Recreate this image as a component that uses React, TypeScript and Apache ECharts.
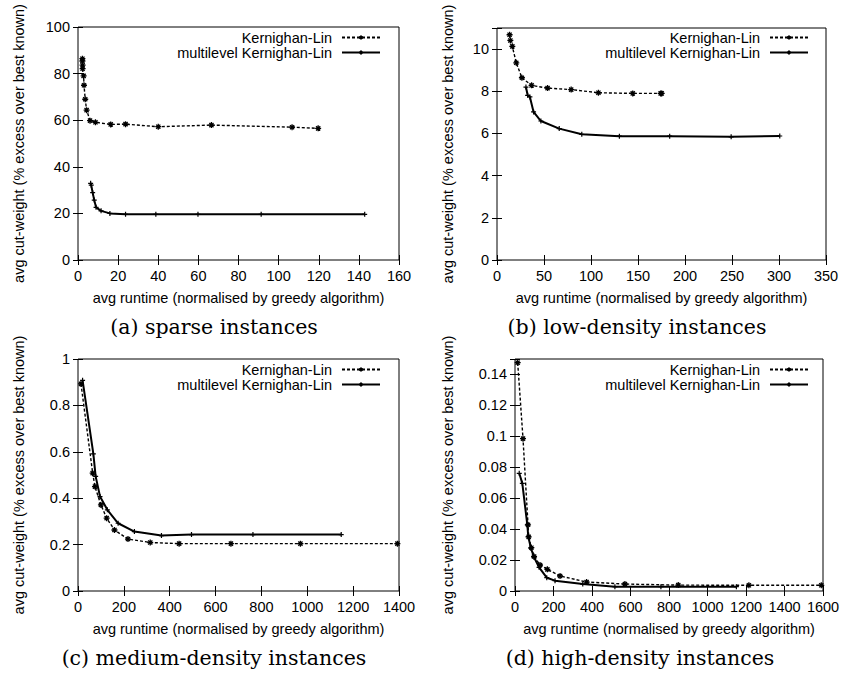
import React, { useEffect, useRef } from 'react';
import * as echarts from 'echarts';

const KL = 'Kernighan-Lin';
const ML = 'multilevel Kernighan-Lin';
const xName = 'avg runtime (normalised by greedy algorithm)';
const yName = 'avg cut-weight (% excess over best known)';
const captions = [
  '(a) sparse instances',
  '(b) low-density instances',
  '(c) medium-density instances',
  '(d) high-density instances',
];

// (a) sparse
const sparseKLx = [2.2, 2.2, 2.3, 2.3, 2.8, 3.0, 3.6, 4.3, 6.0, 8.7, 16.3, 23.7, 40.0, 66.5, 106.7, 119.7];
const sparseKLy = [86.4, 85.4, 83.6, 82.1, 79.0, 75.0, 69.0, 64.3, 59.8, 59.1, 58.2, 58.3, 57.2, 57.9, 57.0, 56.5];
const sparseMLx = [6.3, 6.6, 7.3, 8.1, 9.0, 11.5, 15.9, 23.7, 38.8, 59.8, 91.3, 142.9];
const sparseMLy = [32.9, 32.1, 28.9, 25.7, 22.6, 21.1, 20.0, 19.6, 19.6, 19.6, 19.6, 19.6];

// (b) low density
const lowKLx = [13.4, 14.2, 16.3, 20.5, 26.5, 36.8, 53.8, 78.9, 107.9, 144.4, 174.1, 175.2];
const lowKLy = [10.68, 10.41, 10.13, 9.35, 8.64, 8.28, 8.15, 8.08, 7.93, 7.9, 7.9, 7.9];
const lowMLx = [30.8, 32.6, 35.0, 38.9, 46.7, 66.2, 90.2, 130.2, 183.7, 249.1, 300.8];
const lowMLy = [8.2, 7.81, 7.73, 7.02, 6.59, 6.23, 5.96, 5.87, 5.87, 5.84, 5.88];

// (c) medium density
const medKLx = [13, 64, 74, 100, 125, 159, 218, 315, 441, 667, 970, 1393];
const medKLy = [0.893, 0.508, 0.45, 0.371, 0.314, 0.263, 0.224, 0.209, 0.204, 0.204, 0.204, 0.204];
const medMLx = [20, 67, 77, 96, 128, 175, 246, 364, 495, 763, 1148];
const medMLy = [0.908, 0.591, 0.494, 0.407, 0.35, 0.292, 0.256, 0.239, 0.243, 0.243, 0.243];

// (d) high density
const highKLx = [14, 41.6, 67.7, 71, 85, 99, 130, 168, 234, 372, 571, 848, 1215, 1591];
const highKLy = [0.1476, 0.0985, 0.0428, 0.035, 0.028, 0.0223, 0.0168, 0.014, 0.0097, 0.0058, 0.0045, 0.0038, 0.0037, 0.0037];
const highMLx = [22, 38, 64, 69, 83, 99, 125, 165, 208, 352, 519, 758, 1150];
const highMLy = [0.0761, 0.0696, 0.0427, 0.0351, 0.0276, 0.0218, 0.0153, 0.0086, 0.0067, 0.0045, 0.0028, 0.0028, 0.0028];

// axis ranges
const xMaxes = [160, 350, 1400, 1600];
const xSteps = [20, 50, 200, 200];
const yMaxes = [100, 11, 1, 0.15];
const ySteps = [20, 2, 0.2, 0.02];

const seriesData = [
  [sparseKLx, sparseKLy, sparseMLx, sparseMLy],
  [lowKLx, lowKLy, lowMLx, lowMLy],
  [medKLx, medKLy, medMLx, medMLy],
  [highKLx, highKLy, highMLx, highMLy],
];

const zip = (xs: number[], ys: number[]) => xs.map((x, i) => [x, ys[i]]);

const SANS = 'Liberation Sans, Arial, Helvetica, sans-serif';
const FS = 14.5;

const layout = [
  { left: 78, top: 27, width: 321, height: 233, yGap: 52, legRight: 467, legTop: 30, capX: 214, capY: 327 },
  { left: 497, top: 28, width: 329, height: 232, yGap: 42, legRight: 39, legTop: 30, capX: 637, capY: 327 },
  { left: 78, top: 359, width: 321, height: 232, yGap: 52, legRight: 467, legTop: 362, capX: 214, capY: 658 },
  { left: 515, top: 359, width: 308, height: 232, yGap: 60, legRight: 39, legTop: 362, capX: 640, capY: 658 },
];

const starPath = 'path://M0,5L10,5M5,0L5,10M1.5,1.5L8.5,8.5M8.5,1.5L1.5,8.5';
const plusPath = 'path://M0,5L10,5M5,0L5,10';

const fmt = (v: number) => String(parseFloat(v.toFixed(4)));

export default function App() {
  const ref = useRef<HTMLDivElement>(null);
  useEffect(() => {
    const chart = echarts.init(ref.current!, null, { renderer: 'svg' });
    const grid: any[] = [];
    const xAxis: any[] = [];
    const yAxis: any[] = [];
    const series: any[] = [];
    const legend: any[] = [];
    const graphic: any[] = [];
    layout.forEach((L, i) => {
      grid.push({ left: L.left, top: L.top, width: L.width, height: L.height, show: true, borderColor: '#000', borderWidth: 1 });
      const tick = { inside: true, length: 5, lineStyle: { color: '#000', width: 1 } };
      const yMax = yMaxes[i];
      xAxis.push({
        type: 'value', gridIndex: i, min: 0, max: xMaxes[i], interval: xSteps[i], position: 'bottom',
        axisLine: { show: false }, axisTick: tick, splitLine: { show: false },
        axisLabel: { color: '#000', fontSize: FS, fontFamily: SANS, margin: 8, formatter: fmt },
        name: xName, nameLocation: 'middle', nameGap: 30,
        nameTextStyle: { color: '#000', fontSize: FS, fontFamily: SANS },
      });
      xAxis.push({
        type: 'value', gridIndex: i, min: 0, max: xMaxes[i], interval: xSteps[i], position: 'top',
        axisLine: { show: false }, axisTick: tick, splitLine: { show: false }, axisLabel: { show: false },
      });
      yAxis.push({
        type: 'value', gridIndex: i, min: 0, max: yMax, interval: ySteps[i], position: 'left',
        axisLine: { show: false }, axisTick: tick, splitLine: { show: false },
        axisLabel: {
          color: '#000', fontSize: FS, fontFamily: SANS, margin: 8,
          formatter: (v: number) => {
            const k = Math.round(v / ySteps[i]);
            if (Math.abs(k * ySteps[i] - v) > 1e-9) return '';
            return fmt(v);
          },
        },
        name: yName, nameLocation: 'middle', nameGap: L.yGap,
        nameTextStyle: { color: '#000', fontSize: FS, fontFamily: SANS },
      });
      yAxis.push({
        type: 'value', gridIndex: i, min: 0, max: yMax, interval: ySteps[i], position: 'right',
        axisLine: { show: false }, axisTick: tick, splitLine: { show: false }, axisLabel: { show: false },
      });
      const [klx, kly, mlx, mly] = seriesData[i];
      series.push({
        name: KL, type: 'line', xAxisIndex: 2 * i, yAxisIndex: 2 * i, data: zip(klx, kly),
        symbol: starPath, symbolSize: 6, showAllSymbol: true,
        itemStyle: { color: '#000', borderColor: '#000', borderWidth: 1.3 },
        lineStyle: { color: '#000', width: 1.4, type: [3, 2] },
      });
      series.push({
        name: ML, type: 'line', xAxisIndex: 2 * i, yAxisIndex: 2 * i, data: zip(mlx, mly),
        symbol: plusPath, symbolSize: 5, showAllSymbol: true,
        itemStyle: { color: '#000', borderColor: '#000', borderWidth: 1.2 },
        lineStyle: { color: '#000', width: 2 },
      });
      legend.push({
        data: [KL, ML], orient: 'vertical', align: 'right', right: L.legRight, top: L.legTop,
        itemWidth: 38, itemHeight: 5, itemGap: 0, padding: 0, selectedMode: false,
        textStyle: { color: '#000', fontSize: FS, fontFamily: SANS, lineHeight: 15, padding: [0, 5, 0, 0] },
      });
      graphic.push({
        type: 'text', x: L.capX, y: L.capY,
        style: {
          text: captions[i], fill: '#000', fontSize: 20.5, fontFamily: 'DejaVu Serif, serif',
          align: 'center', verticalAlign: 'middle', textAlign: 'center', textVerticalAlign: 'middle',
        },
      });
    });
    chart.setOption({
      animation: false,
      backgroundColor: '#fff',
      grid, xAxis, yAxis, series, legend, graphic,
    });
    return () => chart.dispose();
  }, []);
  return <div ref={ref} style={{ position: 'absolute', left: 0, top: 0, width: 848, height: 675 }} />;
}
